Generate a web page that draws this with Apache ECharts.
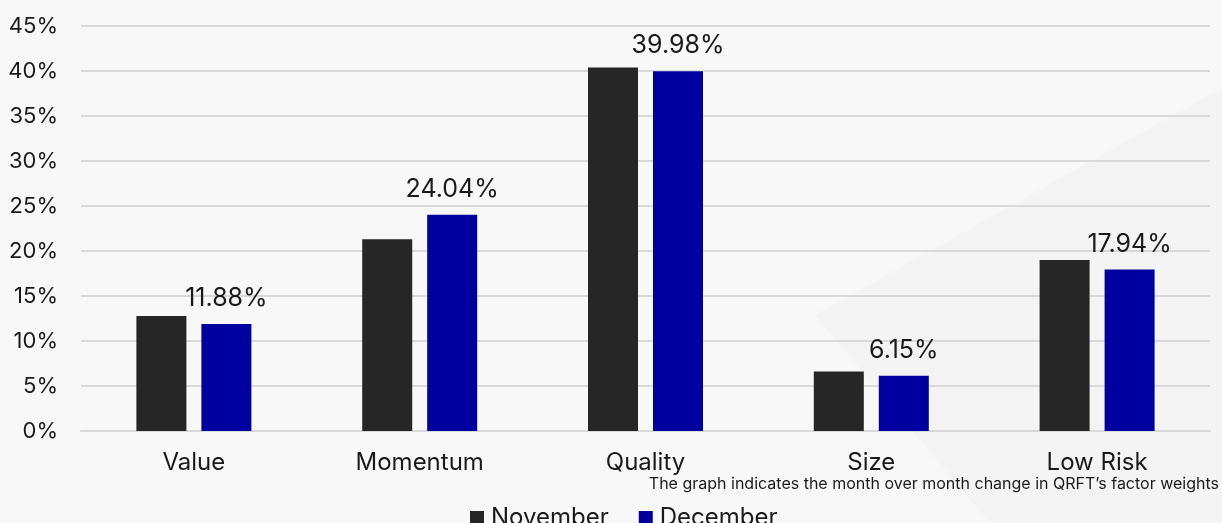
<!DOCTYPE html>
<html lang="en">
<head>
    <meta charset="UTF-8">
    <title>Factor weights</title>
    <script src="https://cdn.jsdelivr.net/npm/echarts@6/dist/echarts.min.js"></script>
    <style>
        html, body { margin: 0; padding: 0; background: #f8f8f8; }
        #main { width: 1222px; height: 523px; }
    </style>
</head>
<body>
<div id="main"></div>
<script type="text/javascript">
    var categories = ['Value', 'Momentum', 'Quality', 'Size', 'Low Risk'];
    var november = [12.78, 21.3, 40.4, 6.6, 19.0];
    var december = [11.88, 24.04, 39.98, 6.15, 17.94];
    var yTicks = [0, 5, 10, 15, 20, 25, 30, 35, 40, 45];
    var footnote = 'The graph indicates the month over month change in QRFT\u2019s factor weights';

    var chart = echarts.init(document.getElementById('main'));
    var font = 'Inter, "Noto Sans", sans-serif';

    var option = {
        backgroundColor: '#f8f8f8',
        textStyle: { fontFamily: font },
        graphic: [
            {
                type: 'polygon',
                silent: true,
                z: -10,
                shape: { points: [[1222, 88], [815, 315], [990, 523], [1222, 523]] },
                style: { fill: '#f4f4f4' }
            },
            {
                type: 'text',
                right: 3,
                top: 476,
                style: { text: footnote, fill: '#1a1a1a', font: '16px ' + font }
            }
        ],
        legend: {
            data: ['November', 'December'],
            left: 465,
            top: 501,
            icon: 'rect',
            itemWidth: 14,
            itemHeight: 14,
            itemGap: 30,
            textStyle: { fontSize: 24, color: '#1a1a1a', padding: [0, 0, 0, 2] }
        },
        grid: { left: 81, right: 12, top: 26, bottom: 92 },
        xAxis: {
            type: 'category',
            data: categories,
            axisLine: { show: true, lineStyle: { color: '#d9d9d9', width: 2 } },
            axisTick: { show: false },
            axisLabel: { fontSize: 24, color: '#1a1a1a', margin: 20 }
        },
        yAxis: {
            type: 'value',
            min: yTicks[0],
            max: yTicks[yTicks.length - 1],
            interval: 5,
            axisLine: { show: false },
            axisTick: { show: false },
            splitLine: { lineStyle: { color: '#d9d9d9', width: 2 } },
            axisLabel: {
                fontSize: 22, color: '#1a1a1a', margin: 23,
                formatter: function (v) { return v + '%'; }
            }
        },
        series: [
            {
                name: 'November',
                type: 'bar',
                data: november,
                barWidth: 50,
                barGap: '30%',
                itemStyle: { color: '#262626' }
            },
            {
                name: 'December',
                type: 'bar',
                data: december,
                barWidth: 50,
                itemStyle: { color: '#0000a0' },
                label: {
                    show: true,
                    position: 'top',
                    distance: 13,
                    fontSize: 25,
                    color: '#1a1a1a',
                    formatter: function (p) { return p.value.toFixed(2) + '%'; }
                }
            }
        ]
    };
    chart.setOption(option);
</script>
</body>
</html>
